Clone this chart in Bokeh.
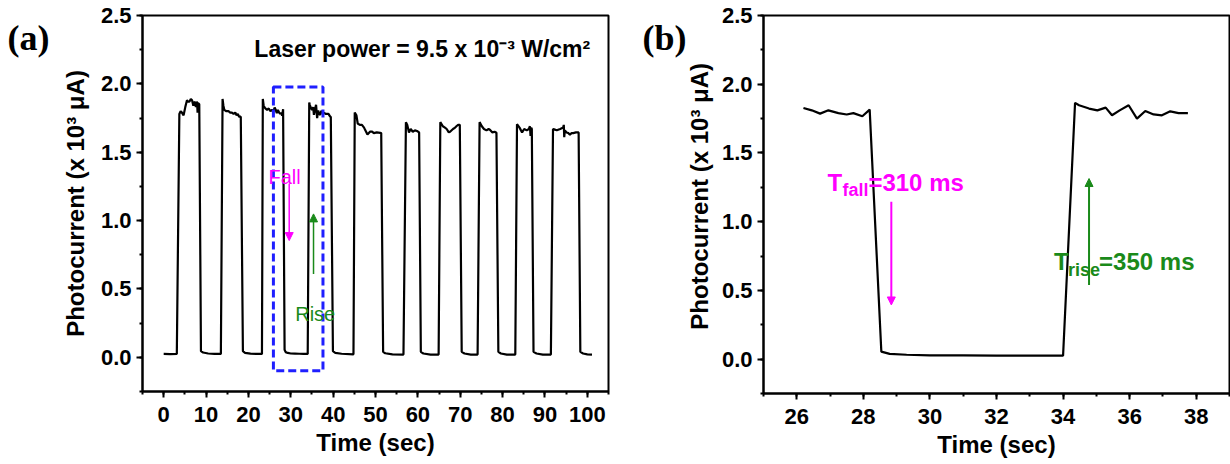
from math import pi
from bokeh.plotting import figure
from bokeh.layouts import row
from bokeh.models import SingleIntervalTicker, NumeralTickFormatter, Range1d, Arrow, NormalHead
from bokeh.core.properties import value
from bokeh.embed import file_html
from bokeh.resources import INLINE

# ---------------- data ----------------
time_s = [
    0.0, 1.5, 3.1,
    3.7, 4.0, 4.3, 4.7, 5.1, 5.5, 5.8, 6.1, 6.4, 6.7, 7.0, 7.2, 7.4, 7.6, 7.8, 7.9, 8.0, 8.1, 8.4,
    8.8, 9.3, 10.5, 12.0, 13.5,
    13.9, 14.1, 14.3, 14.8, 15.3, 15.7, 16.1, 16.5, 16.9, 17.2, 17.5, 17.8, 18.2,
    18.7, 19.2, 20.5, 22.0, 23.2,
    23.4, 23.6, 24.0, 24.4, 24.8, 25.2, 25.6, 25.9, 26.2, 26.45, 26.7, 26.95, 27.25, 27.5, 27.7, 27.97, 28.19,
    28.54, 28.79, 29.3, 30.0, 31.0, 32.0, 33.0, 34.0,
    34.36, 34.48, 34.78, 35.03, 35.28, 35.47, 35.7, 35.97, 36.22, 36.47, 36.72, 36.97, 37.22, 37.47, 37.75,
    38.3, 38.9, 39.3, 39.45,
    39.95, 40.5, 42.0, 44.8,
    45.1, 45.5, 45.8, 46.3, 46.8, 47.3, 47.6, 48.1, 48.7, 49.2, 49.6, 50.3, 51.1, 51.35,
    51.8, 52.3, 54.0, 56.6,
    57.18, 57.5, 57.9, 58.3, 58.8, 59.3, 59.8, 60.3,
    60.7, 61.3, 63.0, 64.9,
    65.3, 65.9, 66.4, 66.8, 67.3, 67.6, 68.3, 68.8, 69.1, 69.5, 69.9,
    70.35, 71.0, 72.5, 74.1,
    74.57, 75.1, 75.6, 76.2, 76.7, 77.0, 77.6, 78.1, 78.55,
    79.0, 79.6, 81.0, 83.0,
    83.4, 84.0, 84.6, 85.1, 85.7, 86.2, 86.45, 86.6, 86.75, 86.9,
    87.3, 88.0, 89.5, 91.4,
    91.9, 92.4, 92.8, 93.6, 94.3, 94.45, 94.55, 94.7, 95.1, 95.5, 95.9, 96.3, 96.7, 97.3, 97.95,
    98.35, 99.0, 100.0, 101.1,
]
photocurrent = [
    0.025, 0.024, 0.025,
    1.78, 1.80, 1.79, 1.77, 1.83, 1.88, 1.87, 1.87, 1.89, 1.88, 1.84, 1.87, 1.86, 1.83, 1.87, 1.86, 1.79, 1.86, 1.85,
    0.045, 0.035, 0.028, 0.025, 0.025,
    1.89, 1.84, 1.81, 1.80, 1.80, 1.79, 1.79, 1.78, 1.79, 1.77, 1.78, 1.76, 1.76,
    0.045, 0.033, 0.027, 0.025, 0.025,
    1.89, 1.84, 1.82, 1.81, 1.82, 1.80, 1.81, 1.80, 1.827, 1.81, 1.786, 1.81, 1.79, 1.78, 1.79, 1.767, 1.815,
    0.055, 0.038, 0.032, 0.028, 0.027, 0.026, 0.025, 0.025,
    1.864, 1.847, 1.823, 1.81, 1.83, 1.774, 1.81, 1.847, 1.75, 1.805, 1.78, 1.774, 1.803, 1.79, 1.79,
    1.78, 1.78, 1.76, 1.76,
    0.045, 0.033, 0.026, 0.022,
    1.79, 1.77, 1.71, 1.70, 1.70, 1.68, 1.66, 1.63, 1.65, 1.65, 1.64, 1.645, 1.642, 1.64,
    0.04, 0.03, 0.022, 0.02,
    1.72, 1.70, 1.645, 1.67, 1.65, 1.66, 1.655, 1.645,
    0.04, 0.028, 0.02, 0.02,
    1.72, 1.69, 1.68, 1.67, 1.645, 1.65, 1.67, 1.68, 1.69, 1.70, 1.70,
    0.04, 0.028, 0.02, 0.02,
    1.72, 1.69, 1.67, 1.66, 1.67, 1.665, 1.645, 1.65, 1.642,
    0.04, 0.028, 0.02, 0.02,
    1.705, 1.68, 1.645, 1.67, 1.66, 1.67, 1.69, 1.62, 1.68, 1.67,
    0.04, 0.028, 0.02, 0.02,
    1.67, 1.665, 1.66, 1.67, 1.68, 1.70, 1.61, 1.66, 1.645, 1.64, 1.627, 1.64, 1.64, 1.645, 1.645,
    0.04, 0.028, 0.022, 0.02,
]

# window shown enlarged in panel (b)
zoom_window = [26.2, 37.75]
# dashed box in panel (a)
box_x = [25.9, 37.6]
box_y = [-0.098, 1.977]

# annotation arrows: x_start, y_start, x_end, y_end
fall_arrow_a = [29.63, 1.269, 29.63, 0.854]
rise_arrow_a = [35.37, 0.61, 35.37, 1.049]
fall_arrow_b = [28.84, 1.145, 28.84, 0.394]
rise_arrow_b = [34.78, 0.54, 34.78, 1.314]

Y_TITLE = "Photocurrent (x 10\u00b3 \u03bcA)"
X_TITLE = "Time (sec)"

FONT = "Liberation Sans"
SERIF = "Liberation Serif"
MAGENTA = "#FF00FF"
GREEN = "#1A8A1A"
BLUE = "#1F1FFF"
H = 464


def style(p, x_interval):
    p.xgrid.visible = False
    p.ygrid.visible = False
    p.outline_line_color = "black"
    p.outline_line_width = 2
    p.outline_line_alpha = 1
    p.background_fill_color = "white"
    p.border_fill_color = "white"
    p.xaxis.ticker = SingleIntervalTicker(interval=x_interval, num_minor_ticks=2)
    p.yaxis.ticker = SingleIntervalTicker(interval=0.5, num_minor_ticks=2)
    p.yaxis.formatter = NumeralTickFormatter(format="0.0")
    for ax in (p.xaxis[0], p.yaxis[0]):
        ax.axis_line_width = 2
        ax.axis_line_color = "black"
        ax.major_tick_line_width = 2
        ax.minor_tick_line_width = 2
        ax.major_tick_in = 0
        ax.major_tick_out = 6
        ax.minor_tick_in = 0
        ax.minor_tick_out = 3
        ax.major_label_text_font = FONT
        ax.major_label_text_font_style = "bold"
        ax.major_label_text_font_size = "22px"
        ax.major_label_text_color = "black"
        ax.axis_label_text_font = FONT
        ax.axis_label_text_font_style = "bold"
        ax.axis_label_text_font_size = "24px"
        ax.axis_label_text_color = "black"
    p.xaxis.major_label_standoff = 9
    p.yaxis.major_label_standoff = 5
    p.xaxis.axis_label_standoff = 4
    p.xaxis.axis_label = X_TITLE


def arrow(p, coords, color, width):
    p.add_layout(Arrow(end=NormalHead(size=8, fill_color=color, line_color=color, line_width=1),
                       x_start=coords[0], y_start=coords[1], x_end=coords[2], y_end=coords[3],
                       line_color=color, line_width=width))


def side_panel(width, letter, letter_x, title_x=None, title_y=None):
    """Narrow strip holding the panel letter (and, if given, the rotated y-axis title)."""
    s = figure(width=width, height=H, x_range=Range1d(0, width), y_range=Range1d(0, H),
               x_axis_location=None, y_axis_location=None, title=None, frame_align=False,
               output_backend="svg", toolbar_location=None,
               min_border_left=0, min_border_right=0, min_border_top=0, min_border_bottom=0)
    s.outline_line_color = None
    s.background_fill_color = "white"
    s.border_fill_color = "white"
    s.xgrid.visible = False
    s.ygrid.visible = False
    s.text(x=[letter_x], y=[H - 37], text=[letter], text_color="black", text_font=value(SERIF),
           text_font_style="bold", text_font_size="36px", text_baseline="alphabetic", text_align="left")
    if title_x is not None:
        s.text(x=[title_x], y=[title_y], text=[Y_TITLE], angle=pi / 2, text_color="black",
               text_font=value(FONT), text_font_style="bold", text_font_size="24px",
               text_baseline="alphabetic", text_align="center")
    return s


# ---------------- panel (a) ----------------
la = side_panel(56, "(a)", 7)

pa = figure(width=564, height=H, x_range=Range1d(-5, 105), y_range=Range1d(-0.25, 2.5),
            output_backend="svg", toolbar_location=None, frame_align=False,
            min_border_left=86, min_border_right=12, min_border_top=15, min_border_bottom=73)
style(pa, 10)
pa.yaxis.axis_label = Y_TITLE
pa.yaxis.axis_label_standoff = 9
pa.line(time_s, photocurrent, line_color="black", line_width=2.2)
pa.quad(left=[box_x[0]], right=[box_x[1]], bottom=[box_y[0]], top=[box_y[1]],
        fill_alpha=0, line_color=BLUE, line_width=3, line_dash="8 4")
arrow(pa, fall_arrow_a, MAGENTA, 1.5)
arrow(pa, rise_arrow_a, GREEN, 1.5)
pa.text(x=[24.75], y=[1.318], text=["Fall"], text_color=MAGENTA, text_font=value(FONT),
        text_font_size="20px", text_baseline="alphabetic", text_align="left")
pa.text(x=[31.05], y=[0.317], text=["Rise"], text_color=GREEN, text_font=value(FONT),
        text_font_size="20px", text_baseline="alphabetic", text_align="left")
pa.text(x=[21.4], y=[2.257], text=["Laser power = 9.5 x 10\u207b\u00b3 W/cm\u00b2"], text_color="black",
        text_font=value(FONT), text_font_style="bold", text_font_size="23px",
        text_baseline="alphabetic", text_align="left")

# ---------------- panel (b) ----------------
lb = side_panel(98, "(b)", 22, 79, H - 195.8)

zt = [t for t in time_s if zoom_window[0] <= t <= zoom_window[1]]
zc = [c for t, c in zip(time_s, photocurrent) if zoom_window[0] <= t <= zoom_window[1]]

pb = figure(width=512, height=H, x_range=Range1d(25, 39), y_range=Range1d(-0.25, 2.5),
            output_backend="svg", toolbar_location=None, frame_align=False,
            min_border_left=44, min_border_right=1, min_border_top=15, min_border_bottom=71)
style(pb, 2)
pb.line(zt, zc, line_color="black", line_width=2.2)
arrow(pb, fall_arrow_b, MAGENTA, 2)
arrow(pb, rise_arrow_b, GREEN, 2)
# T_fall = 310 ms
pb.text(x=[26.92], y=[1.283], text=["T"], text_color=MAGENTA, text_font=value(FONT), text_font_style="bold",
        text_font_size="24px", text_baseline="alphabetic", text_align="left")
pb.text(x=[26.92], y=[1.283], text=["fall"], text_color=MAGENTA, text_font=value(FONT), text_font_style="bold",
        text_font_size="18px", text_baseline="alphabetic", text_align="left", x_offset=15, y_offset=7)
pb.text(x=[26.92], y=[1.283], text=["=310 ms"], text_color=MAGENTA, text_font=value(FONT),
        text_font_style="bold", text_font_size="24px", text_baseline="alphabetic", text_align="left",
        x_offset=41)
# T_rise = 350 ms
pb.text(x=[33.73], y=[0.709], text=["T"], text_color=GREEN, text_font=value(FONT), text_font_style="bold",
        text_font_size="24px", text_baseline="alphabetic", text_align="left")
pb.text(x=[33.73], y=[0.709], text=["rise"], text_color=GREEN, text_font=value(FONT), text_font_style="bold",
        text_font_size="18px", text_baseline="alphabetic", text_align="left", x_offset=14, y_offset=8)
pb.text(x=[33.73], y=[0.709], text=["=350 ms"], text_color=GREEN, text_font=value(FONT),
        text_font_style="bold", text_font_size="24px", text_baseline="alphabetic", text_align="left",
        x_offset=45)

layout = row(la, pa, lb, pb)
open("out.html", "w").write(file_html(layout, INLINE))
